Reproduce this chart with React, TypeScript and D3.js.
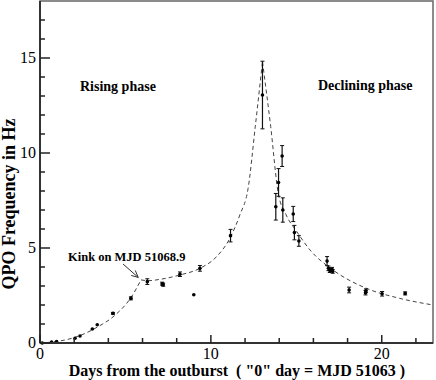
import * as d3 from "d3";
import { useEffect, useRef } from "react";

// observed QPO points: day, frequency (Hz), error (Hz)
const days = [0.13, 0.68, 0.97, 2.05, 2.34, 3.06, 3.35, 4.27, 5.32, 6.28, 7.15, 7.21, 8.19, 9.0, 9.36, 11.15,
    13.02, 13.8, 13.96, 14.17, 14.21, 14.82, 14.89, 15.15, 16.8, 16.88, 16.96, 17.09, 17.13, 18.09, 19.05, 19.08, 20.02, 21.37];
const freqs = [0.0, 0.05, 0.08, 0.25, 0.37, 0.74, 0.96, 1.56, 2.35, 3.23, 3.12, 3.07, 3.62, 2.54, 3.93, 5.65,
    13.05, 7.17, 8.45, 9.84, 7.0, 6.79, 5.81, 5.37, 4.31, 3.93, 3.81, 3.88, 3.77, 2.79, 2.65, 2.75, 2.59, 2.61];
const errs = [0, 0, 0, 0, 0, 0, 0, 0.05, 0.08, 0.15, 0.08, 0.08, 0.12, 0, 0.15, 0.33,
    1.78, 0.7, 0.73, 0.55, 0.64, 0.4, 0.38, 0.28, 0.24, 0.12, 0.1, 0.1, 0.1, 0.15, 0.12, 0.1, 0.12, 0.08];

// fitted model curve
const riseA = [[0, 0], [0.9, 0.07], [2.05, 0.3], [3.4, 0.86], [4.4, 1.47], [5.36, 2.44], [5.91, 3.32]];
const riseB = [[5.91, 3.32], [6.34, 3.28], [7.02, 3.35], [8.19, 3.58], [9.36, 3.93], [10.33, 4.54], [11.11, 5.51],
    [11.7, 6.75], [12.18, 8.14], [12.6, 11.4], [13.02, 14.8]];
const decline = [[13.02, 14.8], [13.5, 11.4], [13.94, 7.9], [14.4, 6.75], [15.0, 5.9], [15.8, 4.9], [17.15, 3.84],
    [19.1, 2.88], [21.05, 2.35], [23, 2.0]];

const xMajor = [0, 10, 20];
const xMinor = [2, 4, 6, 8, 12, 14, 16, 18, 22];
const yMajor = [0, 5, 10, 15];
const yMinor = [1, 2, 3, 4, 6, 7, 8, 9, 11, 12, 13, 14, 16, 17];

const W = 436, H = 380;
const m = { left: 40, right: 3, top: 1, bottom: 37 };

export default function App() {
    const ref = useRef<SVGSVGElement>(null);

    useEffect(() => {
        const svg = d3.select(ref.current);
        svg.selectAll("*").remove();

        const x = d3.scaleLinear().domain([0, 23]).range([m.left, W - m.right]);
        const y = d3.scaleLinear().domain([0, 18]).range([H - m.bottom, m.top]);
        const font = "'Liberation Serif', 'Times New Roman', serif";

        // frame
        svg.append("rect")
            .attr("x", x(0)).attr("y", y(18))
            .attr("width", x(23) - x(0)).attr("height", y(0) - y(18))
            .attr("fill", "none").attr("stroke", "#666").attr("stroke-width", 1.5);

        const line = d3.line().x((d) => x(d[0])).y((d) => y(d[1])).curve(d3.curveMonotoneX);
        [riseA, riseB, decline].forEach((seg) => {
            svg.append("path")
                .attr("d", line(seg as [number, number][]))
                .attr("fill", "none").attr("stroke", "#444")
                .attr("stroke-width", 1).attr("stroke-dasharray", "4,3");
        });

        // error bars + points
        const pts = days.map((d, i) => ({ d, f: freqs[i], e: errs[i] }));
        const g = svg.append("g");
        pts.filter((p) => p.e > 0).forEach((p) => {
            g.append("line").attr("x1", x(p.d)).attr("x2", x(p.d))
                .attr("y1", y(p.f - p.e)).attr("y2", y(p.f + p.e))
                .attr("stroke", "#111").attr("stroke-width", 1.2);
            [p.f - p.e, p.f + p.e].forEach((v) => {
                g.append("line").attr("x1", x(p.d) - 2).attr("x2", x(p.d) + 2)
                    .attr("y1", y(v)).attr("y2", y(v))
                    .attr("stroke", "#111").attr("stroke-width", 1);
            });
        });
        g.selectAll("circle").data(pts).enter().append("circle")
            .attr("cx", (p) => x(p.d)).attr("cy", (p) => y(p.f)).attr("r", 1.8).attr("fill", "#000");

        // axes lines
        svg.append("line").attr("x1", x(0)).attr("x2", x(0)).attr("y1", y(0)).attr("y2", y(18))
            .attr("stroke", "#333").attr("stroke-width", 2);
        svg.append("line").attr("x1", x(0)).attr("x2", x(23)).attr("y1", y(0)).attr("y2", y(0))
            .attr("stroke", "#333").attr("stroke-width", 2);

        // ticks, pointing inward
        xMajor.concat(xMinor).forEach((t) => {
            const len = xMajor.includes(t) ? 8 : 5;
            svg.append("line").attr("x1", x(t)).attr("x2", x(t)).attr("y1", y(0)).attr("y2", y(0) - len)
                .attr("stroke", "#222").attr("stroke-width", 1.5);
        });
        yMajor.concat(yMinor).forEach((t) => {
            const len = yMajor.includes(t) ? 10 : 5;
            svg.append("line").attr("x1", x(0)).attr("x2", x(0) + len).attr("y1", y(t)).attr("y2", y(t))
                .attr("stroke", "#222").attr("stroke-width", 1.5);
        });

        svg.selectAll(".xt").data(xMajor).enter().append("text")
            .attr("x", (t) => x(t)).attr("y", y(0) + 16)
            .attr("text-anchor", "middle").attr("font-family", font).attr("font-size", 16)
            .text((t) => t);
        svg.selectAll(".yt").data(yMajor).enter().append("text")
            .attr("x", x(0) - 4).attr("y", (t) => y(t) + 5)
            .attr("text-anchor", "end").attr("font-family", font).attr("font-size", 16)
            .text((t) => t);

        svg.append("text")
            .attr("x", 237).attr("y", 376)
            .attr("text-anchor", "middle").attr("font-family", font).attr("font-size", 16).attr("font-weight", "bold")
            .text("Days from the outburst  ( \"0\" day = MJD 51063 )")
            .style("white-space", "pre");
        svg.append("text")
            .attr("transform", "translate(15,204) rotate(-90)")
            .attr("text-anchor", "middle").attr("font-family", font).attr("font-size", 18).attr("font-weight", "bold")
            .text("QPO Frequency in Hz");

        svg.append("text").attr("x", 80).attr("y", 91)
            .attr("font-family", font).attr("font-size", 14).attr("font-weight", "bold").text("Rising phase");
        svg.append("text").attr("x", 318).attr("y", 90)
            .attr("font-family", font).attr("font-size", 14).attr("font-weight", "bold").text("Declining phase");
        svg.append("text").attr("x", 68).attr("y", 261)
            .attr("font-family", font).attr("font-size", 12.5).attr("font-weight", "bold").text("Kink on MJD 51068.9");

        // arrow to the kink
        svg.append("line").attr("x1", 123).attr("y1", 264).attr("x2", x(5.75)).attr("y2", y(3.45))
            .attr("stroke", "#333").attr("stroke-width", 1);
        const ax = x(5.75), ay = y(3.45);
        svg.append("path")
            .attr("d", `M${ax - 7},${ay - 2} L${ax},${ay} L${ax - 3},${ay - 7}`)
            .attr("fill", "none").attr("stroke", "#333").attr("stroke-width", 1);
    }, []);

    return (
        <svg ref={ref} width={W} height={H} style={{ position: "absolute", left: 0, top: 0, background: "#fff" }} />
    );
}
